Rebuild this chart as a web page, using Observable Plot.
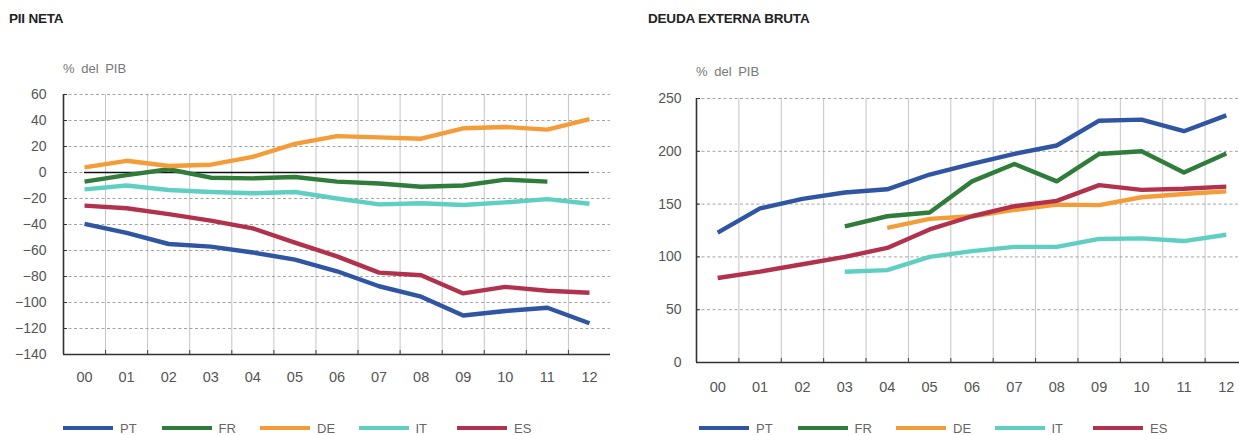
<!DOCTYPE html>
<html><head><meta charset="utf-8">
<script src="https://cdn.jsdelivr.net/npm/d3@7"></script>
<script src="https://cdn.jsdelivr.net/npm/@observablehq/plot@0.6"></script>
<style>
html,body{margin:0;padding:0;background:#fff;}
body{width:1239px;height:435px;overflow:hidden;font-family:"Liberation Sans",Arial,sans-serif;}
#root{position:relative;width:1239px;height:435px;overflow:hidden;}
.title{position:absolute;top:11px;font-size:13.5px;font-weight:bold;color:#222;white-space:nowrap;letter-spacing:-0.2px;}
.unit{position:absolute;font-size:13px;color:#777;white-space:nowrap;word-spacing:3px;}
.chart{position:absolute;top:0;}
.legend{position:absolute;top:421px;display:flex;height:14px;}
.item{display:flex;align-items:center;width:98.5px;height:14px;}
.sw{width:50px;height:4px;margin-right:7px;}
.lab{font-family:"Liberation Sans Narrow","Liberation Sans",Arial,sans-serif;font-size:13px;line-height:13px;color:#666;}
</style></head>
<body><div id="root"></div>
<script>
// ---- data ----
const years = ["00","01","02","03","04","05","06","07","08","09","10","11","12"];
const countries = ["PT","FR","DE","IT","ES"];
const countryColors = ["#2f55a3","#2f7c3b","#f39c38","#5fcfc1","#b2324d"];

// PII NETA (% del PIB)
const piiPT = [-39.5,-46.5,-55,-57,-61.5,-67,-76,-87.5,-95.5,-110,-106.5,-104,-116];
const piiFR = [-7,-2,2.5,-4,-4.5,-3.5,-7,-8.5,-11,-10,-5.5,-7,null];
const piiDE = [4,9,5,6,12,22,28,27,26,34,35,33,41];
const piiIT = [-13,-10,-13.5,-15,-16,-15,-20,-24.5,-23.7,-25,-23,-20.5,-24];
const piiES = [-25.5,-27.5,-32,-37,-43,-54,-64.5,-77,-79,-93,-88,-91,-92.5];
const piiTicks = [-140,-120,-100,-80,-60,-40,-20,0,20,40,60];

// DEUDA EXTERNA BRUTA (% del PIB)
const debtPT = [123,146,155,161,164,178,188,197.5,205.5,229,230,219,234];
const debtFR = [null,null,null,129,138.5,142,171.5,188,171.5,197.5,200,180,198];
const debtDE = [null,null,null,null,127.5,136,138.5,144.5,149.5,149,156.5,159.5,162];
const debtIT = [null,null,null,86,87.5,100,105.5,109.5,109.5,117,117.5,115,121];
const debtES = [80,86,93,100,108.5,126,138.5,148,153,168,163.5,164.5,166.5];
const debtTicks = [0,50,100,150,200,250];

const piiSeries = [piiPT, piiFR, piiDE, piiIT, piiES];
const debtSeries = [debtPT, debtFR, debtDE, debtIT, debtES];

// ---- helpers ----
function toRows(seriesList) {
  const rows = [];
  seriesList.forEach((arr, k) => arr.forEach((v, i) => {
    if (v != null) rows.push({i, v, s: countries[k]});
  }));
  return rows;
}
const idx = d3.range(years.length);
const bounds = d3.range(years.length + 1).map(i => i - 0.5);

function chart({rows, ticks, zero, width, height, mL, mR, mT, mB, yPad, xPad}) {
  const ymin = d3.min(ticks), ymax = d3.max(ticks);
  const marks = [
    Plot.ruleX(bounds.slice(1, -1), {stroke: "#c4c4c4", strokeWidth: 1}),
    Plot.ruleY(ticks.filter(t => t !== ymin), {stroke: "#9a9a9a", strokeWidth: 0.9, strokeDasharray: "3,2.5"}),
    Plot.axisY({ticks, tickSize: 0, tickPadding: yPad, fontSize: 14, fill: "#555", label: null}),
    Plot.axisY({ticks, tickSize: -4, tickFormat: () => "", stroke: "#333", label: null}),
    Plot.axisX({ticks: idx, tickSize: 0, tickPadding: xPad, tickFormat: i => years[i], fontSize: 14.5, fill: "#555", label: null}),
    Plot.axisX({ticks: bounds.slice(1, -1), tickSize: -4, tickFormat: () => "", stroke: "#444", label: null}),
    Plot.ruleX([bounds[0]], {stroke: "#333", strokeWidth: 1.6}),
    Plot.ruleY([ymin], {stroke: "#333", strokeWidth: 1.6})
  ];
  if (zero) marks.push(Plot.ruleY([0], {x1: 0, x2: years.length - 1, stroke: "#111", strokeWidth: 1.4}));
  marks.push(Plot.line(rows, {x: "i", y: "v", z: "s", stroke: "s", strokeWidth: 4.4, strokeLinejoin: "round", strokeLinecap: "butt"}));
  return Plot.plot({
    width, height, marginLeft: mL, marginRight: mR, marginTop: mT, marginBottom: mB,
    style: {fontFamily: '"Liberation Sans", Arial, sans-serif', background: "transparent", overflow: "visible"},
    x: {domain: [bounds[0], bounds[bounds.length - 1]], axis: null},
    y: {domain: [ymin, ymax], axis: null},
    color: {domain: countries, range: countryColors},
    marks
  });
}

const root = document.getElementById("root");
function addDiv(cls, text, style) {
  const d = document.createElement("div");
  d.className = cls; d.textContent = text; Object.assign(d.style, style); root.appendChild(d); return d;
}
function addLegend(left) {
  const lg = document.createElement("div");
  lg.className = "legend"; lg.style.left = left + "px";
  countries.forEach((c, k) => {
    const it = document.createElement("div"); it.className = "item";
    const sw = document.createElement("div"); sw.className = "sw"; sw.style.background = countryColors[k];
    const lb = document.createElement("span"); lb.className = "lab"; lb.textContent = c;
    it.appendChild(sw); it.appendChild(lb); lg.appendChild(it);
  });
  root.appendChild(lg);
}

// Left panel
addDiv("title", "PII NETA", {left: "9px"});
addDiv("unit", "% del PIB", {left: "63px", top: "61px"});
const c1 = chart({rows: toRows(piiSeries), ticks: piiTicks, zero: true, width: 620, height: 400, mL: 63, mR: 10, mT: 94, mB: 46, yPad: 17, xPad: 17});
c1.classList.add("chart"); c1.style.left = "0px";
root.appendChild(c1);
addLegend(63);

// Right panel
addDiv("title", "DEUDA EXTERNA BRUTA", {left: "648px"});
addDiv("unit", "% del PIB", {left: "696px", top: "64px"});
const c2 = chart({rows: toRows(debtSeries), ticks: debtTicks, zero: false, width: 627, height: 410, mL: 76, mR: 0, mT: 98, mB: 48, yPad: 15, xPad: 19});
c2.classList.add("chart"); c2.style.left = "620px";
root.appendChild(c2);
addLegend(699);
</script>
</body></html>
